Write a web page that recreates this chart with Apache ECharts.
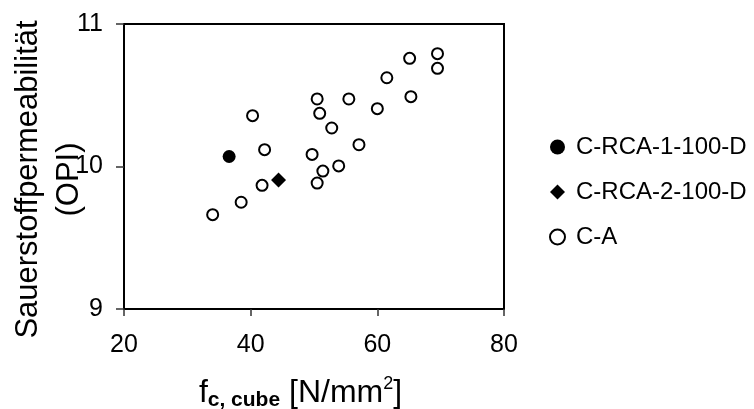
<!DOCTYPE html>
<html>
<head>
<meta charset="utf-8">
<script src="https://cdn.jsdelivr.net/npm/echarts@6/dist/echarts.min.js"></script>
<style>html,body{margin:0;padding:0;background:#fff;}#c{width:754px;height:409px;}</style>
</head>
<body>
<div id="c"></div>
<script>
const seriesNames = ['C-RCA-1-100-D', 'C-RCA-2-100-D', 'C-A'];
const rca1Data = [[36.6, 10.07]];
const rca2Data = [[44.4, 9.905]];
const caData = [
  [34.0, 9.662], [38.5, 9.749], [41.8, 9.868], [42.2, 10.118], [40.3, 10.357],
  [49.7, 10.085], [50.5, 9.884], [51.4, 9.968], [53.9, 10.004], [52.8, 10.270],
  [50.9, 10.373], [50.5, 10.474], [55.5, 10.474], [57.1, 10.153], [60.0, 10.406],
  [61.5, 10.623], [65.1, 10.759], [65.3, 10.490], [69.5, 10.792], [69.5, 10.689]
];
const xTicks = {min: 20, max: 80, interval: 20};
const yTicks = {min: 9, max: 11, interval: 1};

const FONT = 'Liberation Sans';
const chart = echarts.init(document.getElementById('c'), null, {renderer: 'canvas'});
chart.setOption({
  animation: false,
  backgroundColor: '#fff',
  textStyle: {fontFamily: FONT, color: '#000'},
  grid: {left: 124, right: 250, top: 24, bottom: 100, containLabel: false, outerBoundsMode: 'none',
         show: true, borderColor: '#000', borderWidth: 2, backgroundColor: 'transparent'},
  xAxis: {
    type: 'value', min: xTicks.min, max: xTicks.max, interval: xTicks.interval,
    axisLine: {show: true, onZero: false, lineStyle: {color: '#000', width: 2}},
    axisTick: {show: true, length: 7, lineStyle: {color: '#333', width: 1.5}},
    axisLabel: {margin: 24, fontSize: 25, color: '#000', fontFamily: FONT},
    splitLine: {show: false},
    name: '{m|f}{sub|c, cube}{m| [N/mm}{sup|2}{m|]}',
    nameLocation: 'middle', nameGap: 66, nameMoveOverlap: false,
    nameTextStyle: {
      padding: [0, 27, 0, 0],
      rich: {
        m: {fontSize: 32, lineHeight: 36, fontFamily: FONT, color: '#000'},
        sub: {fontSize: 21, lineHeight: 21, fontWeight: 'bold', verticalAlign: 'bottom', fontFamily: FONT, color: '#000'},
        sup: {fontSize: 18, lineHeight: 20, verticalAlign: 'top', fontFamily: FONT, color: '#000'}
      }
    }
  },
  yAxis: {
    type: 'value', min: yTicks.min, max: yTicks.max, interval: yTicks.interval,
    axisLine: {show: true, onZero: false, lineStyle: {color: '#000', width: 2}},
    axisTick: {show: true, length: 8, lineStyle: {color: '#333', width: 1.5}},
    axisLabel: {margin: 21, fontSize: 25, color: '#000', fontFamily: FONT},
    splitLine: {show: false},
    name: 'Sauerstoffpermeabilität\n(OPI)',
    nameLocation: 'middle', nameGap: 34, nameMoveOverlap: false,
    nameTextStyle: {fontSize: 31, lineHeight: 41, fontFamily: FONT, color: '#000', padding: [0, 26, 0, 0]}
  },
  legend: {
    orient: 'vertical', left: 544, top: 130,
    itemWidth: 15, itemHeight: 15, itemGap: 21,
    textStyle: {fontSize: 24, lineHeight: 24, fontFamily: FONT, color: '#000', padding: [0, 0, 0, 6]},
    data: [
      {name: seriesNames[0], icon: 'circle', itemStyle: {color: '#000', borderWidth: 0}},
      {name: seriesNames[1], icon: 'diamond', itemStyle: {color: '#000', borderWidth: 0}},
      {name: seriesNames[2], icon: 'circle', itemStyle: {color: '#fff', borderColor: '#000', borderWidth: 2}}
    ]
  },
  series: [
    {name: seriesNames[0], type: 'scatter', data: rca1Data, symbol: 'circle', symbolSize: 13,
     itemStyle: {color: '#000', opacity: 1}, z: 3},
    {name: seriesNames[1], type: 'scatter', data: rca2Data, symbol: 'diamond', symbolSize: 15,
     itemStyle: {color: '#000', opacity: 1}, z: 3},
    {name: seriesNames[2], type: 'scatter', data: caData, symbol: 'circle', symbolSize: 11,
     itemStyle: {color: '#fff', borderColor: '#000', borderWidth: 2, opacity: 1}, z: 2}
  ]
});
</script>
</body>
</html>
